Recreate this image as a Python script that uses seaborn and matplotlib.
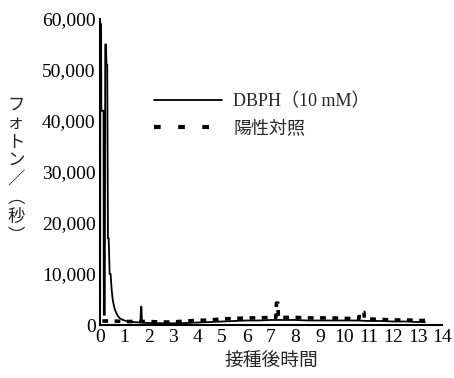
import pandas as pd
import matplotlib
matplotlib.use("Agg")
import matplotlib.pyplot as plt
from matplotlib.lines import Line2D
import seaborn as sns

# DBPH (10 mM) — 接種後時間 vs フォトン/秒
dbph_t = [0, 0.01, 0.02, 0.05, 0.06, 0.15, 0.16, 0.2, 0.22, 0.25, 0.27, 0.3, 0.33,
          0.36, 0.4, 0.44, 0.48, 0.52, 0.56, 0.6, 0.65, 0.7, 0.75, 0.8, 0.9, 1.0,
          1.1, 1.2, 1.3, 1.5, 1.66, 1.68, 1.7, 1.72, 1.8, 2.0, 2.3, 2.6, 3.0, 3.5,
          4.0, 4.5, 5.0, 5.5, 6.0, 6.5, 7.0, 7.5, 8.0, 8.5, 9.0, 9.5, 10.0, 10.5,
          11.0, 11.5, 12.0, 12.5, 13.0, 13.3]
dbph_v = [0, 4000, 59000, 59000, 42000, 42000, 2000, 2000, 55000, 55000, 51000, 51000,
          17000, 17000, 10000, 10000, 7000, 5200, 4100, 3300, 2600, 2100, 1700, 1400,
          1100, 900, 750, 650, 600, 550, 500, 3600, 3600, 500, 450, 400, 400, 350, 350,
          400, 500, 600, 700, 800, 900, 900, 1000, 1000, 1000, 900, 900, 900, 900, 900,
          800, 800, 700, 700, 600, 600]

# 陽性対照
ctrl_t = [0.1, 0.5, 1.0, 1.5, 2.0, 2.5, 3.0, 3.5, 4.0, 4.5, 5.0, 5.5, 6.0, 6.5,
          7.0, 7.2, 7.22, 7.28, 7.3, 7.5, 8.0, 8.5, 9.0, 9.5, 10.0, 10.5, 10.6,
          10.62, 10.8, 10.82, 11.0, 11.5, 12.0, 12.5, 13.0, 13.3]
ctrl_v = [800, 800, 700, 700, 700, 600, 600, 800, 900, 1000, 1200, 1300, 1400, 1400,
          1500, 1500, 4300, 4300, 1500, 1500, 1500, 1400, 1400, 1400, 1300, 1300, 1300,
          2500, 2500, 1300, 1200, 1100, 1000, 1000, 900, 900]

x_ticks = list(range(0, 15))
y_ticks = [0, 10000, 20000, 30000, 40000, 50000, 60000]
y_ticklabels = ["0", "10,000", "20,000", "30,000", "40,000", "50,000", "60,000"]

sns.set_style("white")
plt.rcParams["font.family"] = ["Liberation Serif", "Noto Sans CJK JP", "DejaVu Sans"]

df_dbph = pd.DataFrame({"t": dbph_t, "v": dbph_v})
df_ctrl = pd.DataFrame({"t": ctrl_t, "v": ctrl_v})

fig = plt.figure(figsize=(4.54, 3.78), dpi=100)
ax = fig.add_axes([0.22, 0.140, 0.754, 0.810])

sns.lineplot(data=df_ctrl, x="t", y="v", ax=ax, estimator=None, sort=False,
             color="black", linewidth=2.6, dashes=False)
ax.lines[-1].set_dashes((1.6, 1.8))
sns.lineplot(data=df_dbph, x="t", y="v", ax=ax, estimator=None, sort=False,
             color="black", linewidth=1.3)

ax.set_xlim(0, 14)
ax.set_ylim(0, 60000)
ax.set_xticks(x_ticks)
ax.set_xticklabels([str(t) for t in x_ticks])
ax.set_yticks(y_ticks)
ax.set_yticklabels(y_ticklabels)
ax.tick_params(direction="in", length=5, width=1.2, labelsize=14, pad=3, colors="black")
for side in ["top", "right"]:
    ax.spines[side].set_visible(False)
for side in ["left", "bottom"]:
    ax.spines[side].set_linewidth(1.5)
    ax.spines[side].set_color("black")

ax.set_xlabel("接種後時間", fontsize=13.5, family=["Noto Sans CJK JP"], labelpad=3)
ax.set_ylabel("")
fig.text(0.035, 0.55, "フ\nォ\nト\nン\n／\n︵\n秒\n︶", ha="center", va="center",
         fontsize=12.5, family=["Noto Sans CJK JP"], linespacing=1.05)

handles = [
    Line2D([], [], color="black", linewidth=1.3),
    Line2D([], [], color="black", linewidth=3.0, dashes=(1.6, 4.2)),
]
ax.legend(handles, ["DBPH（10 mM）", "陽性対照"], loc="upper left",
          bbox_to_anchor=(0.11, 0.81), frameon=False, fontsize=13,
          handlelength=3.8, handletextpad=0.6, labelspacing=0.55)

fig.savefig("out.png", dpi=100)
